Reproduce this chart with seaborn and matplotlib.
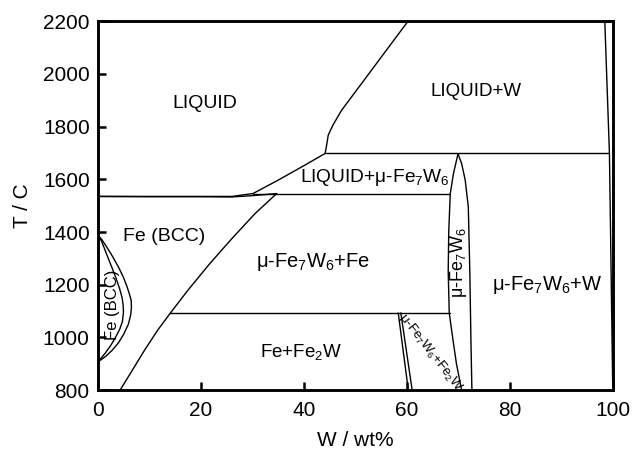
import matplotlib
matplotlib.use("Agg")
import matplotlib.pyplot as plt
import seaborn as sns
import pandas as pd

# ---- phase boundary data (W wt%, T in C) ----
liquidus_fe_x = [0, 10, 20, 26, 30.1, 35, 40, 44.1]
liquidus_fe_t = [1535, 1535, 1535, 1535, 1546, 1597, 1652, 1698]

solidus_bcc_x = [0, 10, 20, 26, 30, 34.7]
solidus_bcc_t = [1535, 1534, 1534, 1533, 1538, 1546]

liquidus_w_x = [44.1, 44.4, 44.7, 45.6, 47.3, 52, 56, 60.2]
liquidus_w_t = [1698, 1730, 1767, 1805, 1862, 1985, 2090, 2200]

peritectic_x = [44.1, 99.3]
peritectic_t = [1698, 1698]

mu_liq_x = [30.1, 68.4]
mu_liq_t = [1546, 1546]

eutectoid_x = [14.0, 68.3]
eutectoid_t = [1093, 1093]

bcc_solvus_x = [4.3, 6.5, 9, 11.5, 14.0, 17.5, 21.75, 26, 30.5, 34.7]
bcc_solvus_t = [800, 870, 950, 1025, 1091, 1180, 1281, 1375, 1470, 1546]

mu_left_x = [69.9, 69.0, 68.4, 68.1, 68.0, 68.2, 69.0, 69.6, 70.6]
mu_left_t = [1697, 1620, 1546, 1400, 1250, 1093, 980, 900, 800]

mu_right_x = [69.9, 70.6, 71.3, 71.9, 72.2, 72.4, 72.6]
mu_right_t = [1697, 1660, 1597, 1495, 1244, 1000, 800]

fe2w_left_x = [58.3, 60.25]
fe2w_left_t = [1093, 800]
fe2w_right_x = [58.8, 61.0]
fe2w_right_t = [1093, 800]

w_solidus_x = [98.4, 99.3]
w_solidus_t = [2200, 1698]
w_solvus_x = [99.3, 99.95]
w_solvus_t = [1698, 800]

gamma_outer_x = [0, 0.8, 1.8, 2.9, 3.95, 4.9, 5.6, 6.1, 6.45, 6.5, 6.35,
                 5.9, 5.0, 4.0, 2.8, 1.5, 0]
gamma_outer_t = [1388, 1370, 1340, 1305, 1268, 1230, 1195, 1165, 1141, 1115,
                 1085, 1050, 1012, 980, 952, 928, 907]
gamma_inner_x = [0, 0.7, 1.6, 2.65, 3.5, 4.2, 4.7, 4.9, 4.95, 4.75, 4.2,
                 3.4, 2.5, 1.4, 0]
gamma_inner_t = [1388, 1365, 1320, 1268, 1225, 1185, 1150, 1120, 1095, 1060,
                 1030, 1000, 970, 940, 907]

segments = {
    "liq_fe": (liquidus_fe_x, liquidus_fe_t),
    "sol_bcc": (solidus_bcc_x, solidus_bcc_t),
    "liq_w": (liquidus_w_x, liquidus_w_t),
    "perit": (peritectic_x, peritectic_t),
    "mu_liq": (mu_liq_x, mu_liq_t),
    "eutec": (eutectoid_x, eutectoid_t),
    "bcc_solv": (bcc_solvus_x, bcc_solvus_t),
    "mu_l": (mu_left_x, mu_left_t),
    "mu_r": (mu_right_x, mu_right_t),
    "fe2w_l": (fe2w_left_x, fe2w_left_t),
    "fe2w_r": (fe2w_right_x, fe2w_right_t),
    "w_sol": (w_solidus_x, w_solidus_t),
    "w_solv": (w_solvus_x, w_solvus_t),
    "g_out": (gamma_outer_x, gamma_outer_t),
    "g_in": (gamma_inner_x, gamma_inner_t),
}

rows = []
for name, (xs, ts) in segments.items():
    for i, (x, t) in enumerate(zip(xs, ts)):
        rows.append({"seg": name, "order": i, "x": x, "T": t})
df = pd.DataFrame(rows)

x_ticks = [0, 20, 40, 60, 80, 100]
y_ticks = [800, 1000, 1200, 1400, 1600, 1800, 2000, 2200]

labels = [
    ("LIQUID", 20.8, 1889, 0, 14),
    ("LIQUID+W", 73.4, 1934, 0, 13.5),
    ("LIQUID+μ-Fe$_7$W$_6$", 53.8, 1606, 0, 13.8),
    ("Fe (BCC)", 12.8, 1384, 0, 14),
    ("μ-Fe$_7$W$_6$+Fe", 41.7, 1286, 0, 14.5),
    ("μ-Fe$_7$W$_6$+W", 87.2, 1198, 0, 14.5),
    ("Fe+Fe$_2$W", 39.4, 944, 0, 13.5),
    ("Fe (BCC)", 2.9, 1122, 90, 12),
    ("μ-Fe$_7$W$_6$", 69.9, 1284, 90, 13),
    ("μ-Fe$_7$W$_6$+Fe$_2$W", 64.5, 945, -52, 9.5),
]

# ---- style ----
sns.set_style("ticks")
plt.rcParams["font.family"] = ["Liberation Sans", "DejaVu Sans"]
plt.rcParams["mathtext.fontset"] = "custom"
plt.rcParams["mathtext.rm"] = "Liberation Sans"
plt.rcParams["mathtext.default"] = "regular"
plt.rcParams["text.color"] = "black"
plt.rcParams["axes.labelcolor"] = "black"
plt.rcParams["xtick.color"] = "black"
plt.rcParams["ytick.color"] = "black"

fig = plt.figure(figsize=(6.32, 4.51), dpi=100)
ax = fig.add_axes([0.155, 0.135, 0.815, 0.818])

sns.lineplot(data=df, x="x", y="T", units="seg", estimator=None, sort=False,
             color="black", linewidth=1.0, ax=ax, legend=False)

for txt, x, t, rot, fs in labels:
    ax.text(x, t, txt, rotation=rot, fontsize=fs, ha="center", va="center",
            rotation_mode="anchor", color="black")

ax.set_xlim(0, 100)
ax.set_ylim(800, 2200)
ax.set_xticks(x_ticks)
ax.set_yticks(y_ticks)
ax.tick_params(direction="in", length=6, width=1.8, labelsize=15, colors="black")
ax.tick_params(axis="x", pad=8)
ax.tick_params(axis="y", pad=6)
for s in ax.spines.values():
    s.set_linewidth(2.1)
    s.set_color("black")
ax.set_xlabel("W / wt%", fontsize=15, labelpad=8)
ax.set_ylabel("T / C", fontsize=15, labelpad=8)

fig.savefig("out.png", dpi=100)
